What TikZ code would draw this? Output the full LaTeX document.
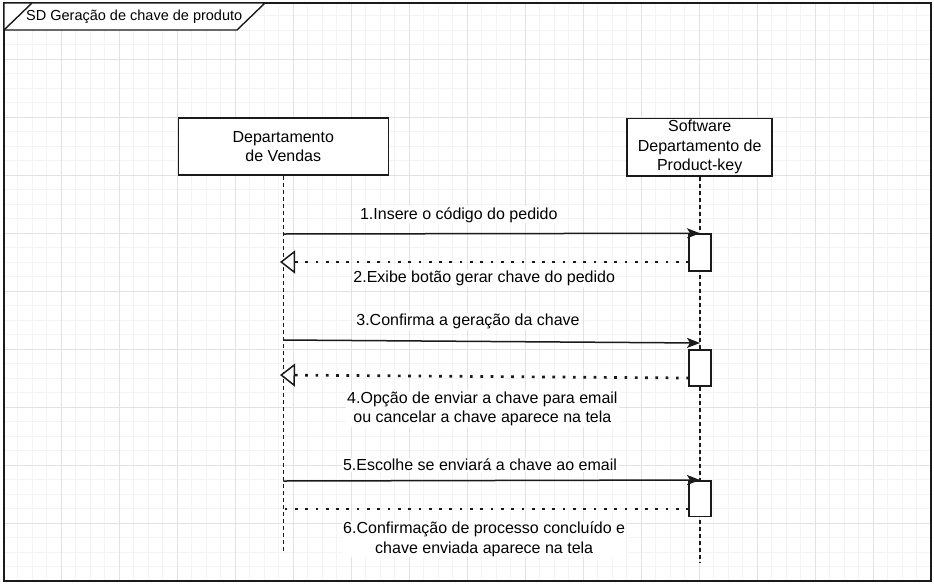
\documentclass[tikz,border=0pt]{standalone}
\usepackage{fontspec}
\setmainfont{Liberation Sans}
\usetikzlibrary{arrows.meta}
\definecolor{gridminor}{HTML}{F4F4F4}
\definecolor{gridmajor}{HTML}{E2E2E2}
\definecolor{ink}{HTML}{1A1A1A}
\begin{document}
\begin{tikzpicture}[x=1pt,y=-1pt,
  every node/.style={font=\fontsize{16}{19.6}\selectfont, inner sep=0pt, text=black},
  headbox/.style={draw=ink, line width=1.5pt, fill=white, align=center},
  actbox/.style={draw=ink, line width=1.5pt, fill=white, minimum width=22pt, inner sep=0pt},
  lifeline/.style={draw=ink, line width=1.6pt, dash pattern=on 4pt off 3pt},
  syncmsg/.style={draw=ink, line width=1.5pt, -{Stealth[length=13pt,width=10pt,inset=3pt]}},
  replymsg/.style={draw=ink, line width=2.7pt, dash pattern=on 2.7pt off 7.6pt},
  opentip/.style={-{Triangle[length=15pt,width=23pt,fill=white,line width=1.5pt]}},
  msglabel/.style={fill=white, align=center, inner xsep=1pt, inner ysep=1pt}
]
\useasboundingbox (0,0) rectangle (934,584);
\fill[white] (0,0) rectangle (934,584);
% grid
\begin{scope}
  \clip (4,3) rectangle (931,581);
  \foreach \i in {0,...,64} {
    \draw[gridminor, line width=1pt] ({3.3+14.5*\i},0) -- ({3.3+14.5*\i},584);
  }
  \foreach \j in {0,...,40} {
    \draw[gridminor, line width=1pt] (0,{1.3+14.5*\j}) -- (934,{1.3+14.5*\j});
  }
  \foreach \i in {0,...,16} {
    \draw[gridmajor, line width=1pt] ({3.3+58*\i},0) -- ({3.3+58*\i},584);
  }
  \foreach \j in {0,...,10} {
    \draw[gridmajor, line width=1pt] (0,{1.3+58*\j}) -- (934,{1.3+58*\j});
  }
\end{scope}
% frame
\draw[ink, line width=1.8pt] (4,3) rectangle (931,581);
\filldraw[draw=ink, fill=white, line width=1.4pt] (4,3) -- (265,3) -- (237,30) -- (4,30) -- cycle;
\draw[ink, line width=1.4pt] (4,30) -- (32,3);
\node[anchor=base, font=\fontsize{14.5}{17}\selectfont] (title) at (134.2,20.7) {SD Geração de chave de produto};

% lifeline heads
\node[headbox, minimum width=210pt, minimum height=57pt] (h1) at (283.3,146.6) {Departamento\\de Vendas};
\node[headbox, minimum width=145pt, minimum height=57.5pt] (h2) at (699.7,147) {Software\\Departamento de\\Product-key};

\coordinate (e1) at (283.3,552);
\coordinate (e2) at (699.7,563);
\draw[lifeline] (h1.south) -- (e1);
\draw[lifeline] (h2.south) -- (e2);

% activation boxes
\node[actbox, minimum height=37pt] (a1) at (700,252.5) {};
\node[actbox, minimum height=36pt] (a2) at (700,368) {};
\node[actbox, minimum height=35.5pt] (a3) at (700,498.5) {};

% message end points
\coordinate (m1s) at (283.3,234);
\coordinate (m2s) at (689,262);
\coordinate (m2e) at (280,262);
\coordinate (m3s) at (283.3,340);
\coordinate (m3e) at (700,343);
\coordinate (m4s) at (689,378);
\coordinate (m4e) at (280,375);
\coordinate (m5s) at (283.3,481);
\coordinate (m6s) at (689,509);
\coordinate (m6e) at (283.3,509);

% messages
\draw[syncmsg] (m1s) -- (a1.north);
\node[msglabel, anchor=base] (l1) at (458.8,219) {1.Insere o código do pedido};

\draw[replymsg, opentip] (m2s) -- (m2e);
\node[msglabel, anchor=base] (l2) at (484.2,282.7) {2.Exibe botão gerar chave do pedido};

\draw[syncmsg] (m3s) -- (m3e);
\node[msglabel, anchor=base] (l3) at (468,325.7) {3.Confirma a geração da chave};

\draw[replymsg, opentip] (m4s) -- (m4e);
\node[msglabel] (l4) at (482.4,409) {4.Opção de enviar a chave para email\\ou cancelar a chave aparece na tela};

\draw[syncmsg] (m5s) -- (a3.north);
\node[msglabel, anchor=base] (l5) at (480,470.7) {5.Escolhe se enviará a chave ao email};

\draw[replymsg] (m6s) -- (m6e);
\node[msglabel] (l6) at (484.2,539) {6.Confirmação de processo concluído e\\chave enviada aparece na tela};
\end{tikzpicture}
\end{document}
